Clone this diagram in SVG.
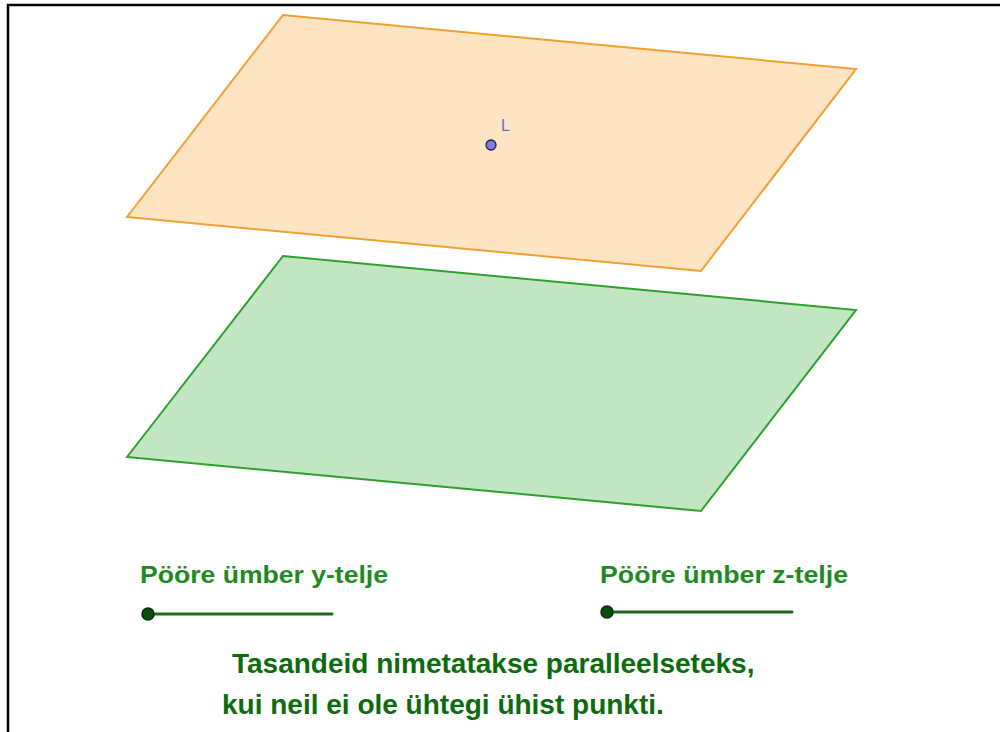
<svg xmlns="http://www.w3.org/2000/svg" width="1000" height="732" viewBox="0 0 1000 732">
<style>
.lbl{font-family:"Liberation Sans",Arial,sans-serif;font-weight:bold;fill:#1f8a1f;font-size:23px}
.big{font-family:"Liberation Sans",Arial,sans-serif;font-weight:bold;fill:#0d6b0d;font-size:28px}
.track{stroke:#1d6a1d;stroke-width:3;stroke-linecap:round}
.knob{fill:#0b4d0b;stroke:#063006;stroke-width:1.5}
</style>
<rect x="0" y="0" width="1000" height="732" fill="#fff"/>
<path d="M8,732 V5 H1000" fill="none" stroke="#000" stroke-width="2.5"/>
<g id="plane-top">
<polygon points="127,217 283,15 856,69 701,271" fill="#ffe4c4" stroke="#f0a030" stroke-width="2"/>
</g>
<g id="plane-bottom">
<polygon points="127,457 283,256 856,310 701,511" fill="#c2e6c2" stroke="#2ea02e" stroke-width="2"/>
</g>
<g id="point-L">
<circle cx="491" cy="145" r="5" fill="#7c7cf0" stroke="#222244" stroke-width="1.3"/>
<text x="501" y="131" font-family="Liberation Sans,Arial,sans-serif" font-size="16" fill="#7070c0">L</text>
</g>
<g id="slider-y">
<text class="lbl" x="140" y="583" textLength="248" lengthAdjust="spacingAndGlyphs">Pööre ümber y-telje</text>
<line class="track" x1="148" y1="614" x2="332" y2="614"/>
<circle class="knob" cx="148" cy="614" r="6"/>
</g>
<g id="slider-z">
<text class="lbl" x="600" y="583" textLength="248" lengthAdjust="spacingAndGlyphs">Pööre ümber z-telje</text>
<line class="track" x1="607" y1="612" x2="792" y2="612"/>
<circle class="knob" cx="607" cy="612" r="6"/>
</g>
<g id="caption">
<text class="big" x="232" y="673">Tasandeid nimetatakse paralleelseteks,</text>
<text class="big" x="222" y="714">kui neil ei ole ühtegi ühist punkti.</text>
</g>
<g id="connectors"></g>
</svg>
